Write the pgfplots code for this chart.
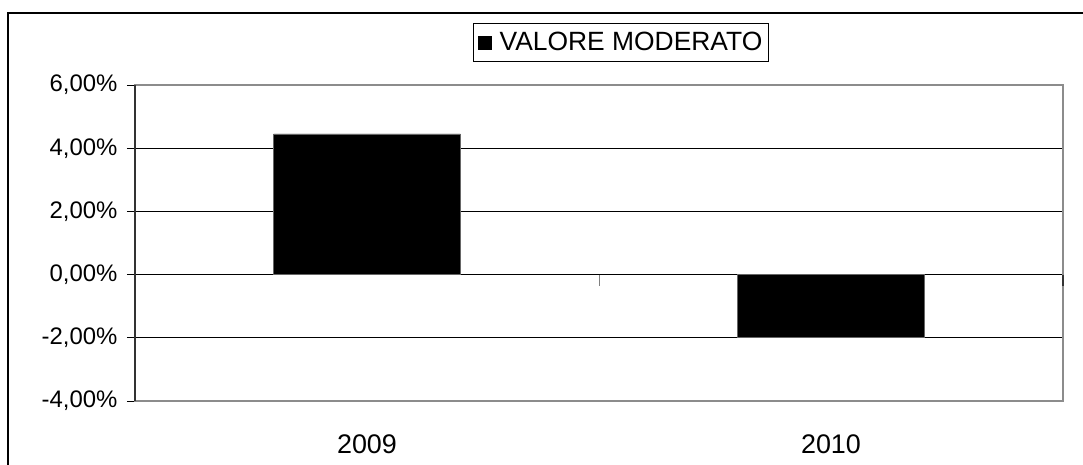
\documentclass[border=0pt]{standalone}
\usepackage{fontspec}
\setmainfont{Liberation Sans}
\usepackage{pgfplots}
\pgfplotsset{compat=1.18}

\begin{document}
\begin{tikzpicture}
% page = 1083 x 465 bp, origin at lower left corner of the plot area
\useasboundingbox (-135bp,-64bp) rectangle (948bp,401bp);
\begin{axis}[at={(0,0)},anchor=south west,
 width=928bp,height=316bp,scale only axis,
 xmin=0,xmax=2,ymin=-4,ymax=6,
 ybar,bar width=0.403,
 xtick={0.5,1.5},xticklabels={2009,2010},
 xtick style={draw=none},
 xticklabel style={font=\fontsize{27}{30}\selectfont,yshift=-22bp},
 ytick={-4,-2,0,2,4,6},
 yticklabels={{-4,00\%},{-2,00\%},{0,00\%},{2,00\%},{4,00\%},{6,00\%}},
 yticklabel style={font=\fontsize{24}{28}\selectfont,xshift=-6bp},
 ytick pos=left,tick align=outside,major tick length=8bp,
 ytick style={black,line width=0.8bp},
 ymajorgrids=true,grid style={black,line width=0.9bp},
 axis line style={black!45,line width=1.6bp},
 legend style={at={(rel axis cs:0.5237,1.136)},anchor=center,
  draw=black,line width=0.8bp,fill=white,
  font=\fontsize{26.5}{30}\selectfont,inner xsep=4bp,inner ysep=7bp},
 legend image code/.code={\fill[black,draw=none] (0bp,-8bp) rectangle (14bp,6bp);
  \path[draw=none,fill=none] (0bp,0bp) -- (20bp,0bp);},
 clip=false]
\addplot[fill=black,draw=black!60,line width=0.8bp] coordinates {(0.5,4.45) (1.5,-2.0)};
\addlegendentry{VALORE MODERATO}
% category separators on the zero line
\draw[black!50,line width=1bp] (axis cs:1,0) -- (axis cs:1,-0.35);
\draw[black!80,line width=1.6bp] (axis cs:2,0) -- (axis cs:2,-0.35);
\draw[black!80,line width=1.4bp] (rel axis cs:0,0) -- (rel axis cs:0,1);
\end{axis}
% outer frame of the chart
\draw[black,line width=1.3bp] (-127bp,388bp) rectangle (1000bp,-120bp);
\end{tikzpicture}
\end{document}
